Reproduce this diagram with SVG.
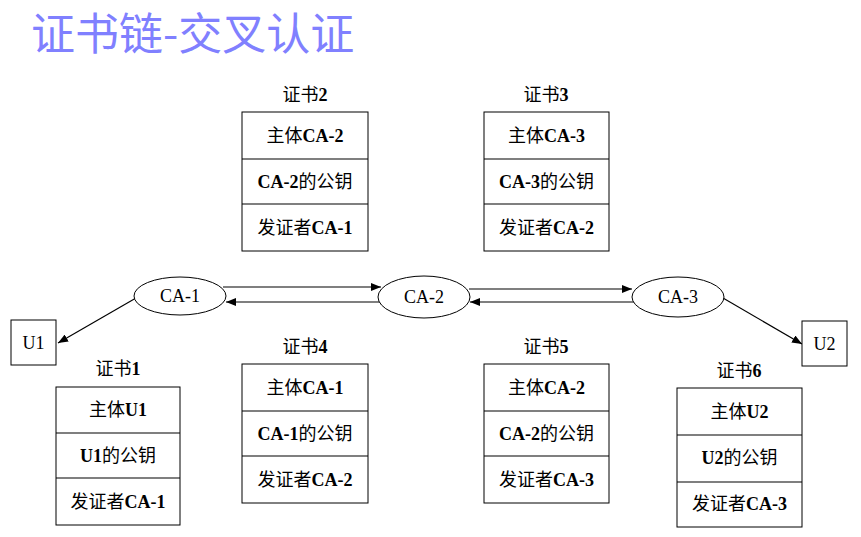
<svg xmlns="http://www.w3.org/2000/svg" width="861" height="537" viewBox="0 0 861 537">
<defs>
<style>
.t{font-family:"Liberation Serif","Times New Roman","Noto Sans CJK SC",serif;font-size:18px;fill:#000;text-anchor:middle}
.b{font-weight:bold}
.box{fill:#fff;stroke:#000;stroke-width:1}
.ln{stroke:#000;stroke-width:1.2;fill:none}
.title{font-family:"Noto Sans CJK SC","Noto Sans",sans-serif;font-size:44px;fill:#8080ff}
</style>
<marker id="ah" viewBox="0 0 10 8" refX="10" refY="4" markerWidth="10" markerHeight="8" markerUnits="userSpaceOnUse" orient="auto">
<path d="M0,0 L10,4 L0,8 Z" fill="#000"/>
</marker>
</defs>
<rect width="861" height="537" fill="#fff"/>
<text class="title" x="31" y="50">证书链-交叉认证</text>

<g id="connectors">
<line class="ln" x1="223" y1="287" x2="381" y2="287" marker-end="url(#ah)"/>
<line class="ln" x1="380" y1="302" x2="226" y2="302" marker-end="url(#ah)"/>
<line class="ln" x1="469" y1="289" x2="632" y2="289" marker-end="url(#ah)"/>
<line class="ln" x1="634" y1="302" x2="470" y2="302" marker-end="url(#ah)"/>
<line class="ln" x1="136" y1="298" x2="58" y2="343" marker-end="url(#ah)"/>
<line class="ln" x1="723" y1="298" x2="802" y2="344" marker-end="url(#ah)"/>
</g>

<g id="ca1"><ellipse class="box" cx="180" cy="296" rx="46" ry="19"/><text class="t" x="180" y="302">CA-1</text></g>
<g id="ca2"><ellipse class="box" cx="424" cy="297" rx="46" ry="21"/><text class="t" x="424" y="303">CA-2</text></g>
<g id="ca3"><ellipse class="box" cx="678" cy="297" rx="46" ry="20"/><text class="t" x="678" y="303">CA-3</text></g>

<g id="u1"><rect class="box" x="11" y="320" width="45" height="45"/><text class="t" x="33.5" y="349">U1</text></g>
<g id="u2"><rect class="box" x="802" y="321" width="45" height="45"/><text class="t" x="824.5" y="350">U2</text></g>

<g id="cert2">
<text class="t" x="305" y="101">证书<tspan class="b">2</tspan></text>
<rect class="box" x="242" y="112" width="126" height="139"/>
<line class="ln" x1="242" y1="159" x2="368" y2="159" stroke-width="1"/>
<line class="ln" x1="242" y1="204" x2="368" y2="204" stroke-width="1"/>
<text class="t" x="305" y="142">主体<tspan class="b">CA-2</tspan></text>
<text class="t" x="305" y="188"><tspan class="b">CA-2</tspan>的公钥</text>
<text class="t" x="305" y="234">发证者<tspan class="b">CA-1</tspan></text>
</g>

<g id="cert3">
<text class="t" x="546" y="101">证书<tspan class="b">3</tspan></text>
<rect class="box" x="484" y="112" width="125" height="139"/>
<line class="ln" x1="484" y1="159" x2="609" y2="159" stroke-width="1"/>
<line class="ln" x1="484" y1="204" x2="609" y2="204" stroke-width="1"/>
<text class="t" x="546.5" y="142">主体<tspan class="b">CA-3</tspan></text>
<text class="t" x="546.5" y="188"><tspan class="b">CA-3</tspan>的公钥</text>
<text class="t" x="546.5" y="234">发证者<tspan class="b">CA-2</tspan></text>
</g>

<g id="cert4">
<text class="t" x="305" y="353">证书<tspan class="b">4</tspan></text>
<rect class="box" x="242" y="364" width="126" height="139"/>
<line class="ln" x1="242" y1="411" x2="368" y2="411" stroke-width="1"/>
<line class="ln" x1="242" y1="456" x2="368" y2="456" stroke-width="1"/>
<text class="t" x="305" y="394">主体<tspan class="b">CA-1</tspan></text>
<text class="t" x="305" y="440"><tspan class="b">CA-1</tspan>的公钥</text>
<text class="t" x="305" y="486">发证者<tspan class="b">CA-2</tspan></text>
</g>

<g id="cert5">
<text class="t" x="546" y="353">证书<tspan class="b">5</tspan></text>
<rect class="box" x="484" y="364" width="125" height="139"/>
<line class="ln" x1="484" y1="411" x2="609" y2="411" stroke-width="1"/>
<line class="ln" x1="484" y1="456" x2="609" y2="456" stroke-width="1"/>
<text class="t" x="546.5" y="394">主体<tspan class="b">CA-2</tspan></text>
<text class="t" x="546.5" y="440"><tspan class="b">CA-2</tspan>的公钥</text>
<text class="t" x="546.5" y="486">发证者<tspan class="b">CA-3</tspan></text>
</g>

<g id="cert1">
<text class="t" x="118" y="375">证书<tspan class="b">1</tspan></text>
<rect class="box" x="56" y="387" width="124" height="138"/>
<line class="ln" x1="56" y1="433" x2="180" y2="433" stroke-width="1"/>
<line class="ln" x1="56" y1="478" x2="180" y2="478" stroke-width="1"/>
<text class="t" x="118" y="416">主体<tspan class="b">U1</tspan></text>
<text class="t" x="118" y="462"><tspan class="b">U1</tspan>的公钥</text>
<text class="t" x="118" y="508">发证者<tspan class="b">CA-1</tspan></text>
</g>

<g id="cert6">
<text class="t" x="739" y="377">证书<tspan class="b">6</tspan></text>
<rect class="box" x="677" y="388" width="125" height="139"/>
<line class="ln" x1="677" y1="435" x2="802" y2="435" stroke-width="1"/>
<line class="ln" x1="677" y1="482" x2="802" y2="482" stroke-width="1"/>
<text class="t" x="739.5" y="418">主体<tspan class="b">U2</tspan></text>
<text class="t" x="739.5" y="464"><tspan class="b">U2</tspan>的公钥</text>
<text class="t" x="739.5" y="510">发证者<tspan class="b">CA-3</tspan></text>
</g>
</svg>
